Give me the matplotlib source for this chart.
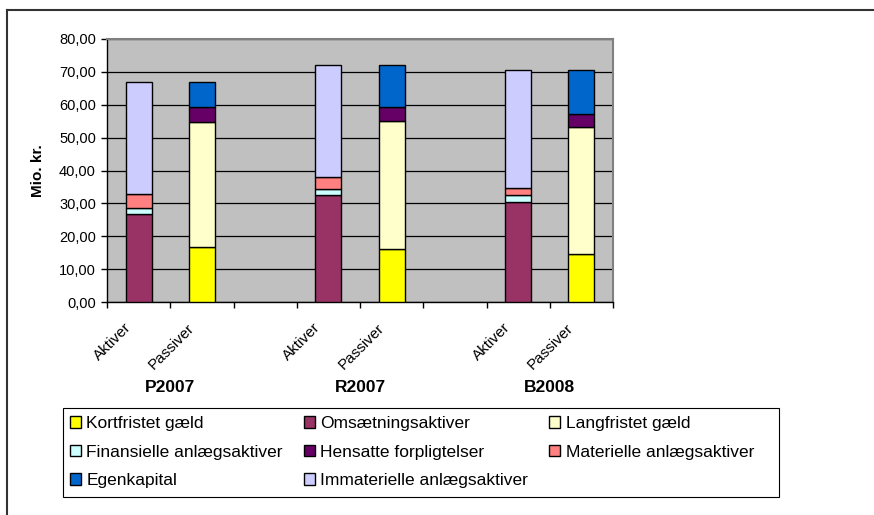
import matplotlib.pyplot as plt
import matplotlib.transforms as mtransforms
import numpy as np
from matplotlib.patches import Patch, Rectangle
from matplotlib.lines import Line2D

plt.rcParams['font.family'] = ['Liberation Sans', 'DejaVu Sans']

# categories on the x axis (blank ones separate the periods)
categories = ["Aktiver", "Passiver", "", "Aktiver", "Passiver", "", "Aktiver", "Passiver"]
periods = ["P2007", "R2007", "B2008"]
aktiv_idx = [0, 3, 6]
passiv_idx = [1, 4, 7]

# mio. kr. per period (P2007, R2007, B2008)
kortfristet = [16.8, 16.0, 14.7]
omsaetning = [26.8, 32.5, 30.3]
langfristet = [38.0, 39.0, 38.5]
finansielle = [1.9, 1.8, 2.3]
hensatte = [4.4, 4.3, 3.9]
materielle = [4.3, 3.7, 2.1]
egenkapital = [7.6, 12.7, 13.6]
immaterielle = [33.8, 34.0, 36.0]

# series in Excel order: (name, values, side, colour)
series = [
    ("Kortfristet gæld", kortfristet, "P", "#FFFF00"),
    ("Omsætningsaktiver", omsaetning, "A", "#993366"),
    ("Langfristet gæld", langfristet, "P", "#FFFFCC"),
    ("Finansielle anlægsaktiver", finansielle, "A", "#CCFFFF"),
    ("Hensatte forpligtelser", hensatte, "P", "#660066"),
    ("Materielle anlægsaktiver", materielle, "A", "#FF8080"),
    ("Egenkapital", egenkapital, "P", "#0066CC"),
    ("Immaterielle anlægsaktiver", immaterielle, "A", "#CCCCFF"),
]

W, H = 874, 515
fig = plt.figure(figsize=(W / 100, H / 100), dpi=100)
ax = fig.add_axes([107 / W, 1 - 302 / H, 506 / W, 263 / H])
ax.set_facecolor("#C0C0C0")

x = np.arange(len(categories))
bottom = np.zeros(len(categories))
handles = []
for name, vals, side, col in series:
    idx = aktiv_idx if side == "A" else passiv_idx
    ax.bar(x[idx], vals, 0.41, bottom=bottom[idx], color=col, edgecolor="black",
           linewidth=1.0, zorder=3)
    bottom[idx] += vals
    handles.append(Patch(facecolor=col, edgecolor="black", linewidth=1.0, label=name))

ax.set_xlim(-0.5, len(categories) - 0.5)
ax.set_ylim(0, 80)
yt = np.arange(0, 81, 10)
ax.set_yticks(yt)
ax.set_yticklabels([f"{v:.2f}".replace(".", ",") for v in yt], fontsize=10.5)
ax.yaxis.grid(True, color="black", linewidth=0.9, zorder=0)
ax.set_axisbelow(True)
ax.tick_params(axis="y", direction="out", length=4, width=1, pad=4)

# category boundary ticks, labels at category centres
ax.set_xticks(np.arange(-0.5, len(categories), 1.0))
ax.set_xticklabels([])
ax.tick_params(axis="x", direction="out", length=4, width=1)
ax.set_xticks(x, minor=True)
ax.set_xticklabels(categories, minor=True, rotation=45, ha="right", va="center",
                   rotation_mode="anchor", fontsize=11)
ax.tick_params(axis="x", which="minor", length=0, pad=17)
shift = mtransforms.ScaledTranslation(-10 / 100, 0, fig.dpi_scale_trans)
for lab in ax.get_xticklabels(minor=True):
    lab.set_transform(lab.get_transform() + shift)

for s in ["left", "bottom"]:
    ax.spines[s].set_color("black")
    ax.spines[s].set_linewidth(1)
for s in ["top", "right"]:
    ax.spines[s].set_color("#808080")
    ax.spines[s].set_linewidth(1.5)

ax.set_ylabel("Mio. kr.", fontsize=11, fontweight="bold", labelpad=10)

for i, p in enumerate(periods):
    ax.text((aktiv_idx[i] + passiv_idx[i]) / 2, (302 - 388) / 263, p,
            transform=ax.get_xaxis_transform(), ha="center", va="center",
            fontsize=12.5, fontweight="bold")

# legend box, then the entries filled row by row like Excel
fig.add_artist(Rectangle((63 / W, 1 - 497 / H), 716 / W, 89 / H, transform=fig.transFigure,
                         facecolor="white", edgecolor="black", linewidth=0.8, zorder=1))
order = [0, 3, 6, 1, 4, 7, 2, 5]
leg = fig.legend([handles[i] for i in order], [handles[i].get_label() for i in order],
                 ncol=3, loc="upper left",
                 bbox_to_anchor=(70 / W, 1 - 416 / H),
                 fontsize=12.5, frameon=False, borderaxespad=0, borderpad=0,
                 handlelength=0.65, handleheight=0.65, handletextpad=0.3,
                 labelspacing=0.78, columnspacing=1.2)
leg.set_zorder(2)

# outer chart frame (continues past the right and bottom edge)
fig.add_artist(Line2D([7 / W, 7 / W], [0, 1 - 10 / H], color="#333333", linewidth=1.5))
fig.add_artist(Line2D([7 / W, 1], [1 - 10 / H, 1 - 10 / H], color="#333333", linewidth=1.5))

fig.savefig("out.png", dpi=100)
